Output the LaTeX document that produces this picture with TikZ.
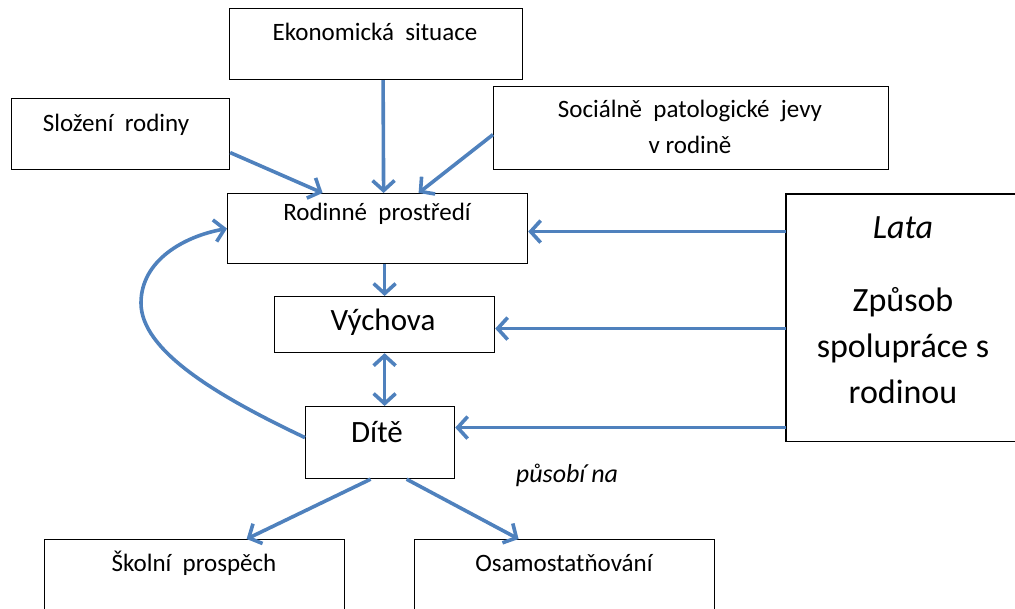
\documentclass[tikz,border=0pt]{standalone}
\usepackage{fontspec}
\setmainfont{Carlito}
\usetikzlibrary{arrows.meta}
\definecolor{arrowblue}{HTML}{4F81BD}
\tikzset{
  box/.style={draw=black, line width=1.2pt, inner sep=0pt, anchor=north west},
  frame/.style={draw=black, line width=1.2pt},
  smalltxt/.style={font=\fontsize{25}{36}\selectfont, align=center, inner sep=0pt},
  midtxt/.style={font=\fontsize{31}{37}\selectfont, inner sep=0pt},
  bigtxt/.style={font=\fontsize{34}{46}\selectfont, align=center, inner sep=0pt},
  conn/.style={draw=arrowblue, line width=3.6pt, -{Straight Barb[length=10pt,width=22pt]}},
  dconn/.style={draw=arrowblue, line width=3.6pt, {Straight Barb[length=10pt,width=22pt]}-{Straight Barb[length=10pt,width=22pt]}},
}
\begin{document}
\begin{tikzpicture}[x=1pt,y=-1pt]
\useasboundingbox (0,0) rectangle (1015,609);
\begin{scope}
\clip (0,0) rectangle (1015,609);
% boxes
\node[box, minimum width=293pt, minimum height=71pt] (eko) at (229,8) {};
\node[box, minimum width=218pt, minimum height=71pt] (slo) at (11,98) {};
\node[box, minimum width=395pt, minimum height=83pt] (soc) at (493,86) {};
\node[box, minimum width=300pt, minimum height=70pt] (rod) at (227,193) {};
\node[box, minimum width=220pt, minimum height=56pt] (vyc) at (274,296) {};
\node[box, minimum width=149pt, minimum height=72pt] (dit) at (305,406) {};
\node[box, minimum width=300pt, minimum height=90pt] (sko) at (44,539) {};
\node[box, minimum width=300pt, minimum height=90pt] (osa) at (414,539) {};
\node[box, draw=none, minimum width=260pt, minimum height=246pt] (lata) at (786,194) {};
\draw[frame] (lata.north east) -- (lata.north west) -- (lata.south west) -- (lata.south east);
% texts
\node[smalltxt] (ekot) at (375,32) {Ekonomická\ \ situace};
\node[smalltxt] (slot) at (116,125) {Složení\ \ rodiny};
\node[smalltxt] (soct) at (690,127) {Sociálně\ \ patologické\ \ jevy\\v rodině};
\node[smalltxt] (rodt) at (377,214) {Rodinné\ \ prostředí};
\node[midtxt] (vyct) at (383,322) {Výchova};
\node[midtxt] (ditt) at (377,432) {Dítě};
\node[smalltxt] (skot) at (194,563) {Školní\ \ prospěch};
\node[smalltxt] (osat) at (564,563) {Osamostatňování};
\node[bigtxt] (latat) at (903,228) {\itshape Lata};
\node[bigtxt] (zpt) at (903,346) {Způsob\\spolupráce s\\rodinou};
\node[smalltxt, font=\fontsize{26}{31}\selectfont\itshape] (pus) at (567,475) {působí na};
% connectors
\draw[conn] ([xshift=7pt]eko.south) -- ([xshift=6pt]rod.north);
\draw[conn] ([yshift=-18.5pt]slo.east) -- ([xshift=-55pt]rod.north);
\draw[conn] ([yshift=-6.5pt]soc.west) -- ([xshift=41pt]rod.north);
\draw[conn] ([xshift=7pt]rod.south) -- (vyc.north);
\draw[dconn] (vyc.south) -- ([xshift=4.5pt]dit.north);
\draw[conn] ([xshift=-9.5pt]dit.south) -- ([xshift=52pt]sko.north);
\draw[conn] ([xshift=26.5pt]dit.south) -- ([xshift=-46pt]osa.north);
\coordinate (a1) at ([yshift=-3pt]rod.east);
\coordinate (a2) at ([yshift=-4pt]vyc.east);
\coordinate (a3) at ([yshift=15pt]dit.east);
\draw[conn] (lata.west |- a1) -- (a1);
\draw[conn] (lata.west |- a2) -- (a2);
\draw[conn] (lata.west |- a3) -- (a3);
\draw[conn] ([yshift=5pt]dit.west) .. controls (215,395) and (141,350) .. (141,303)
  .. controls (141,260) and (185,236) .. (rod.west);
\end{scope}
\end{tikzpicture}
\end{document}
